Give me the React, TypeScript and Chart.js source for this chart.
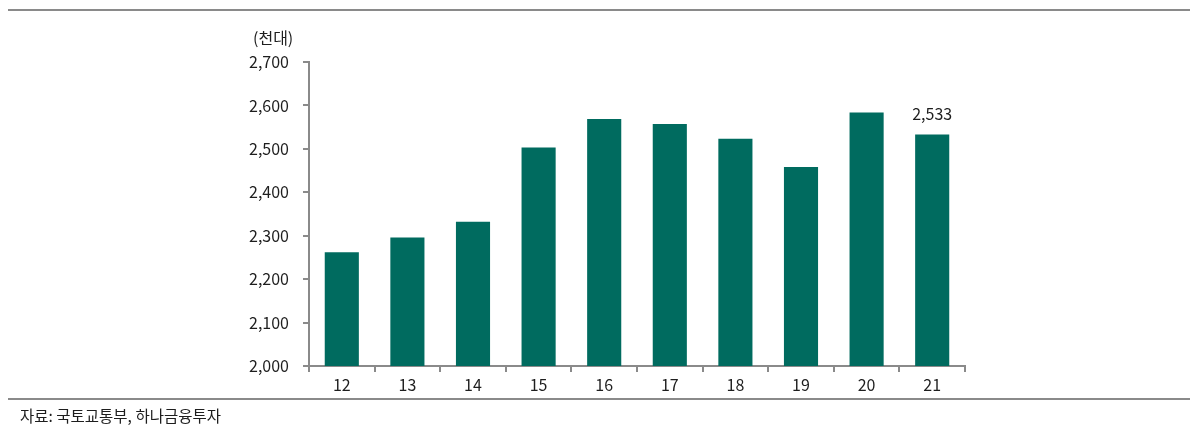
import React, { useEffect, useRef } from "react";
import { Chart, registerables } from "chart.js";

Chart.register(...registerables);

const categories = ["12", "13", "14", "15", "16", "17", "18", "19", "20", "21"];
const values = [2262, 2296, 2332, 2503, 2569, 2557, 2523, 2458, 2584, 2533];
const yMin = 2000;
const yMax = 2700;
const yStep = 100;
const annotatedIndex = 9;
const annotationText = "2,533";
const unitLabel = "(천대)";
const sourceText = "자료: 국토교통부, 하나금융투자";

const FONT = "'Noto Sans CJK KR', 'Noto Sans', sans-serif";
const BAR_COLOR = "#006b5f";
const AXIS_COLOR = "#8a8a8a";
const TEXT_COLOR = "#1e1e1e";

const annotationPlugin = {
  id: "lastLabel",
  afterDatasetsDraw(chart: any) {
    const meta = chart.getDatasetMeta(0);
    const el = meta.data[annotatedIndex];
    if (!el) return;
    const ctx = chart.ctx;
    ctx.save();
    ctx.font = `16px ${FONT}`;
    ctx.fillStyle = TEXT_COLOR;
    ctx.textAlign = "center";
    ctx.textBaseline = "middle";
    ctx.fillText(annotationText, el.x, el.y - 21);
    ctx.restore();
  },
};

export default function App() {
  const canvasRef = useRef<HTMLCanvasElement | null>(null);

  useEffect(() => {
    if (!canvasRef.current) return;
    const chart = new Chart(canvasRef.current, {
      type: "bar",
      data: {
        labels: categories,
        datasets: [
          {
            data: values,
            backgroundColor: BAR_COLOR,
            borderWidth: 0,
            categoryPercentage: 1,
            barPercentage: 0.52,
          },
        ],
      },
      options: {
        responsive: false,
        animation: false,
        layout: { padding: { left: 0, right: 235, top: 62, bottom: 40 } },
        plugins: { legend: { display: false }, tooltip: { enabled: false } },
        scales: {
          x: {
            afterFit(scale: any) {
              scale.height = 34;
            },
            border: { display: true, color: AXIS_COLOR, width: 2 },
            grid: {
              drawOnChartArea: false,
              drawTicks: true,
              tickLength: 6,
              color: AXIS_COLOR,
              lineWidth: 2,
              offset: true,
            },
            ticks: {
              color: TEXT_COLOR,
              font: { family: FONT, size: 16 },
              padding: 3,
              maxRotation: 0,
            },
          },
          y: {
            min: yMin,
            max: yMax,
            afterFit(scale: any) {
              scale.width = 309;
            },
            border: { display: true, color: AXIS_COLOR, width: 2 },
            grid: {
              drawOnChartArea: false,
              drawTicks: true,
              tickLength: 6,
              color: AXIS_COLOR,
              lineWidth: 2,
            },
            ticks: {
              stepSize: yStep,
              color: TEXT_COLOR,
              font: { family: FONT, size: 16 },
              padding: 14,
              callback: (v: any) => Number(v).toLocaleString("en-US"),
            },
          },
        },
      },
      plugins: [annotationPlugin],
    });
    return () => chart.destroy();
  }, []);

  return (
    <div style={{ position: "absolute", left: 0, top: 0, width: 1200, height: 440, background: "#fff", fontFamily: FONT }}>
      <div style={{ position: "absolute", left: 8, top: 9, width: 1182, height: 2, background: AXIS_COLOR }} />
      <canvas ref={canvasRef} width={1200} height={440} style={{ position: "absolute", left: 0, top: 0, width: 1200, height: 440 }} />
      <div style={{ position: "absolute", left: 253, top: 25, fontSize: 16, lineHeight: "24px", color: TEXT_COLOR, whiteSpace: "nowrap" }}>{unitLabel}</div>
      <div style={{ position: "absolute", left: 8, top: 398, width: 1182, height: 2, background: AXIS_COLOR }} />
      <div style={{ position: "absolute", left: 20, top: 403, fontSize: 15.5, lineHeight: "24px", color: TEXT_COLOR, whiteSpace: "nowrap" }}>{sourceText}</div>
    </div>
  );
}
